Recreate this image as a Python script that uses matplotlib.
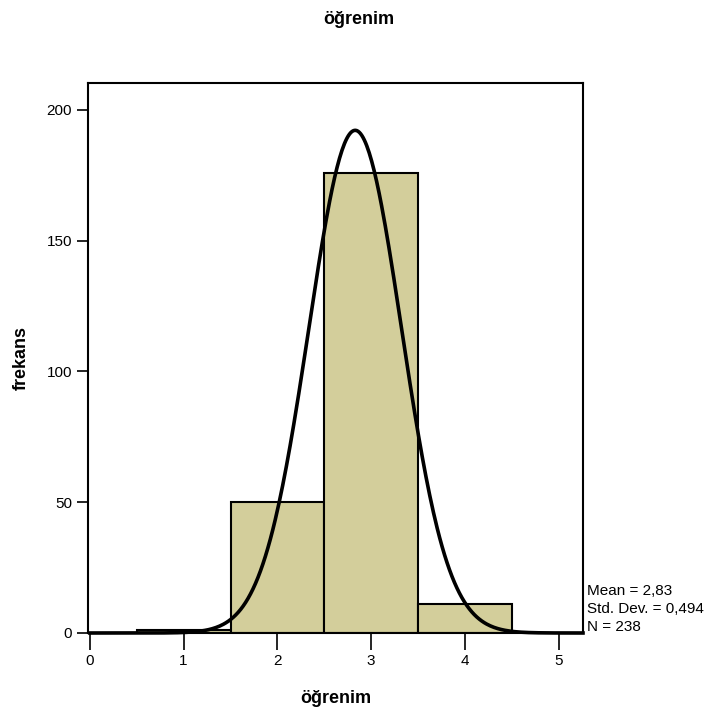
import numpy as np
import matplotlib.pyplot as plt

plt.rcParams['font.family'] = ['Liberation Sans', 'DejaVu Sans']

# histogram of the education variable
bin_centers = [1, 2, 3, 4]
counts = [1, 50, 176, 11]
mean = 2.83
std = 0.494
n = 238
bin_width = 1.0

fig = plt.figure(figsize=(7.18, 7.11), dpi=100)
ax = fig.add_axes([88 / 718, 1 - 633 / 711, (583 - 88) / 718, (633 - 83) / 711])

ax.bar(bin_centers, counts, width=bin_width, color='#d3ce9b',
       edgecolor='black', linewidth=1.5, zorder=2)

# fitted normal curve
xs = np.linspace(0, 5.26, 400)
ys = n * bin_width / (std * np.sqrt(2 * np.pi)) * np.exp(-0.5 * ((xs - mean) / std) ** 2)
ax.plot(xs, ys, color='black', linewidth=2.6, zorder=3, clip_on=False)

ax.set_xlim(-0.02, 5.26)
ax.set_ylim(0, 210.3)
ax.set_xticks([0, 1, 2, 3, 4, 5])
ax.set_yticks([0, 50, 100, 150, 200])
ax.tick_params(axis='both', direction='out', length=8, width=1.2, labelsize=11)
ax.tick_params(axis='x', length=12, pad=3)
for s in ax.spines.values():
    s.set_linewidth(1.5)

ax.set_xlabel('öğrenim', fontsize=13, fontweight='bold', labelpad=16)
ax.set_ylabel('frekans', fontsize=13, fontweight='bold', labelpad=12)
fig.suptitle('öğrenim', fontsize=13, fontweight='bold', y=0.985)

fig.text(587 / 718, 1 - 591 / 711, 'Mean = 2,83', fontsize=11, va='center')
fig.text(587 / 718, 1 - 609 / 711, 'Std. Dev. = 0,494', fontsize=11, va='center')
fig.text(587 / 718, 1 - 627 / 711, 'N = 238', fontsize=11, va='center')

plt.savefig('out.png', dpi=100)
